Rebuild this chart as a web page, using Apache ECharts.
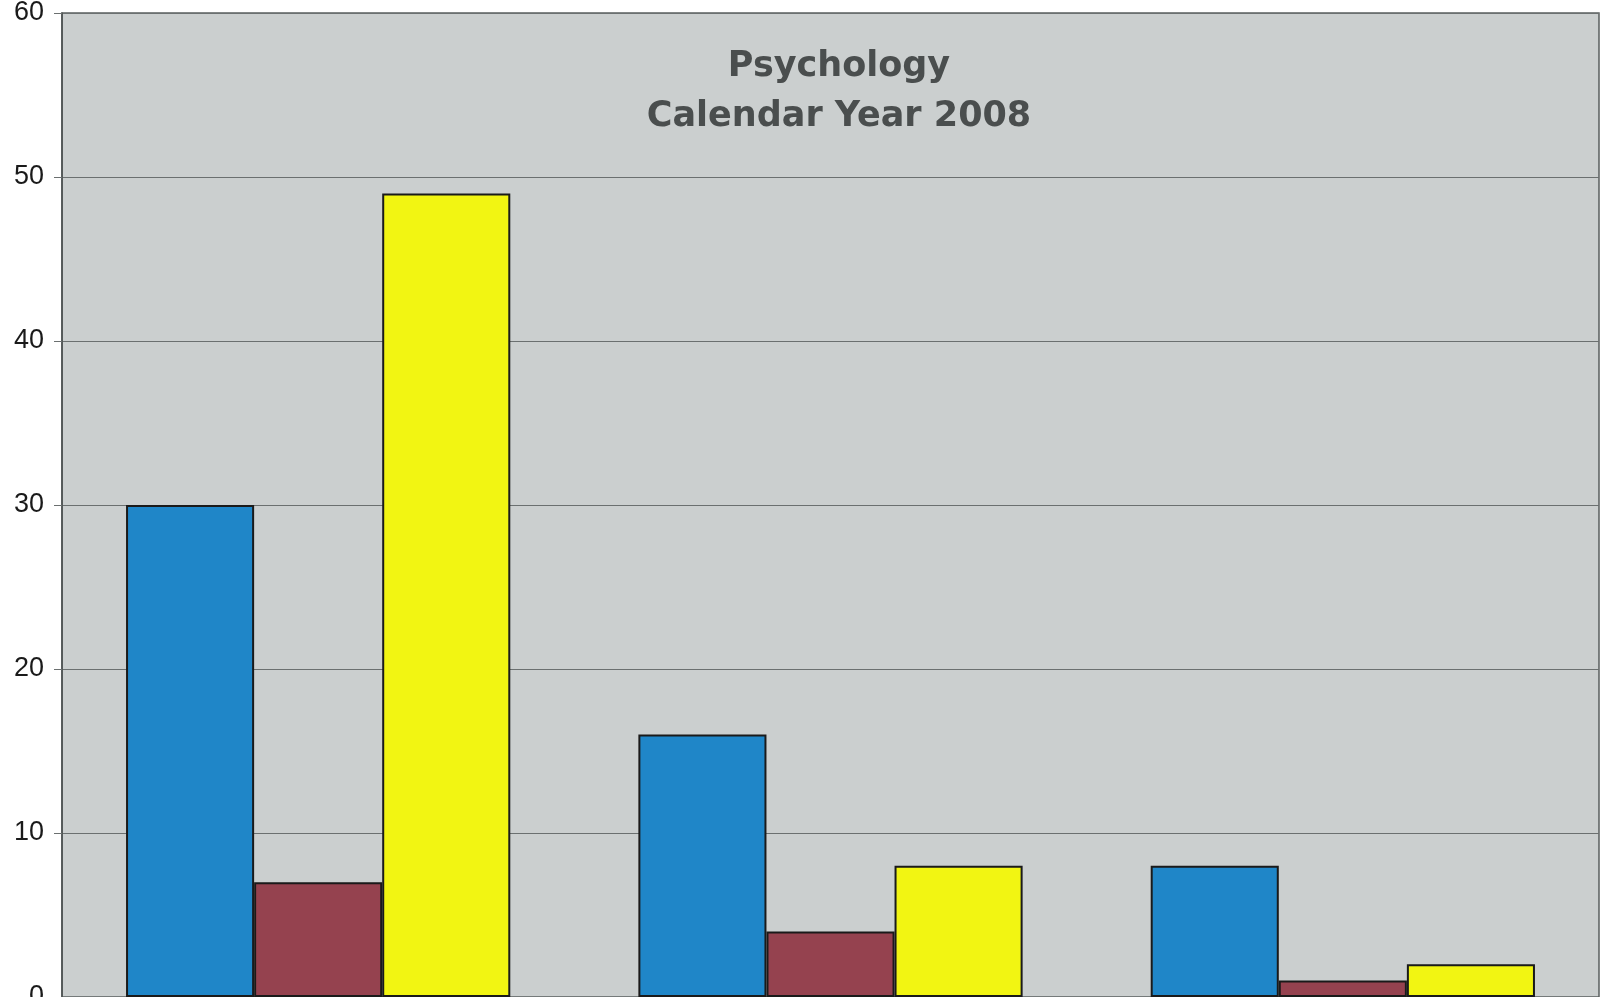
<!DOCTYPE html>
<html>
<head>
<meta charset="utf-8">
<script src="https://cdn.jsdelivr.net/npm/echarts@6/dist/echarts.min.js"></script>
<style>
html,body{margin:0;padding:0;background:#ffffff;}
#chart{width:1606px;height:997px;}
</style>
</head>
<body>
<div id="chart"></div>
<script>
const categories = ['Group 1', 'Group 2', 'Group 3'];
const seriesBlue = [30, 16, 8];
const seriesMaroon = [7, 4, 1];
const seriesYellow = [49, 8, 2];
const titleLines = ['Psychology', 'Calendar Year 2008'];

const chart = echarts.init(document.getElementById('chart'), null, {renderer: 'canvas'});
const barStyle = (c) => ({color: c, borderColor: '#1a1a1a', borderWidth: 2});
chart.setOption({
  animation: false,
  backgroundColor: '#ffffff',
  title: {
    text: titleLines.join('\n'),
    left: 834, top: 37, textAlign: 'center',
    textStyle: {
      fontFamily: 'DejaVu Sans', fontWeight: 'bold', fontSize: 35, lineHeight: 50,
      color: '#4a4e4e', textShadowColor: 'rgba(255,255,255,0.6)', textShadowOffsetX: 1, textShadowOffsetY: 1, textShadowBlur: 0
    }
  },
  grid: {left: 62, right: 7, top: 13, height: 984, outerBoundsMode: 'none', containLabel: false, show: true, backgroundColor: '#cbcfcf', borderColor: '#5a5f5f', borderWidth: 1.5},
  xAxis: {
    type: 'category', data: categories,
    axisLine: {show: true, lineStyle: {color: '#333'}},
    axisTick: {show: false}, axisLabel: {show: false}
  },
  yAxis: {
    type: 'value', min: 0, max: 60, interval: 10,
    axisLine: {show: true, lineStyle: {color: '#4a4f4f', width: 1.5}},
    axisTick: {show: true, length: 8, lineStyle: {color: '#6b7070'}},
    axisLabel: {fontFamily: 'Liberation Sans', fontSize: 27, color: '#1a1a1a', margin: 18},
    splitLine: {show: true, lineStyle: {color: '#6b7070', width: 1.2}}
  },
  series: [
    {type: 'bar', name: 'Blue', data: seriesBlue, itemStyle: barStyle('#1f86c8'), barGap: '0%', barCategoryGap: '25%'},
    {type: 'bar', name: 'Maroon', data: seriesMaroon, itemStyle: barStyle('#95424f'), barGap: '0%', barCategoryGap: '25%'},
    {type: 'bar', name: 'Yellow', data: seriesYellow, itemStyle: barStyle('#f2f512'), barGap: '0%', barCategoryGap: '25%'}
  ]
});
</script>
</body>
</html>
